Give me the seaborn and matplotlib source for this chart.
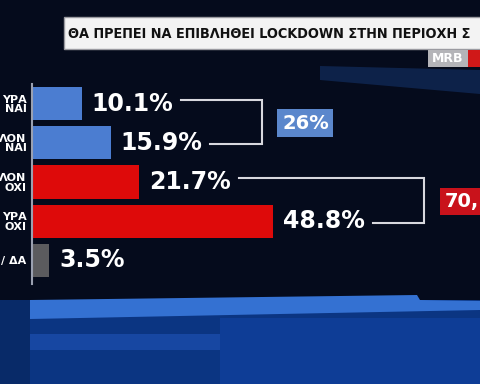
import matplotlib
matplotlib.use("Agg")
import matplotlib.pyplot as plt
from matplotlib.patches import Rectangle, Polygon
import seaborn as sns
import pandas as pd

# poll answers (labels are cut off at the left edge of the screenshot)
categories = ["ΥΡΑ\nΝΑΙ", "ΛΟΝ\nΝΑΙ", "ΛΟΝ\nΟΧΙ", "ΥΡΑ\nΟΧΙ", "/ ΔΑ"]
values = [10.1, 15.9, 21.7, 48.8, 3.5]
bar_colors = ["#4b7dd1", "#4b7dd1", "#de0a0a", "#de0a0a", "#5b5b5e"]

# bracketed totals
group_rows = [(0, 1), (2, 3)]
group_labels = ["26%", "70,"]
group_colors = ["#5b87cc", "#c9121b"]

title = "ΘΑ ΠΡΕΠΕΙ ΝΑ ΕΠΙΒΛΗΘΕΙ LOCKDOWN ΣΤΗΝ ΠΕΡΙΟΧΗ Σ"

W, H = 480, 384
fig = plt.figure(figsize=(4.8, 3.84), dpi=100)
fig.patch.set_facecolor("#050b1c")

# background layer, pixel coordinates
bg = fig.add_axes([0, 0, 1, 1], zorder=-1)
bg.set_xlim(0, W)
bg.set_ylim(H, 0)
bg.axis("off")
bg.add_patch(Polygon([(320, 66), (480, 70), (480, 94), (320, 80)], color="#14356f", alpha=0.55, lw=0))
bg.add_patch(Rectangle((0, 300), W, 84, color="#0b3582", lw=0))
bg.add_patch(Rectangle((0, 300), 30, 84, color="#082a68", lw=0))
bg.add_patch(Rectangle((220, 318), 260, 66, color="#0e3d96", lw=0))
bg.add_patch(Rectangle((30, 334), 190, 16, color="#1b4cab", alpha=0.8, lw=0))
bg.add_patch(Polygon([(30, 300), (417, 295), (420, 300), (480, 301), (480, 310), (30, 319)],
                     color="#3471d2", lw=0))

# title strip
bg.add_patch(Rectangle((64, 17), 420, 32, facecolor="#f3f3f3", edgecolor="#9a9aa0", lw=1))
title_txt = bg.text(68, 33.5, title, color="#111111", fontsize=17, fontweight="bold",
                    family="DejaVu Sans", fontstretch="condensed", va="center", ha="left")

# MRB logo
bg.add_patch(Rectangle((428, 50), 40, 17, color="#b4b4b8", lw=0))
bg.add_patch(Rectangle((468, 50), 14, 17, color="#d01818", lw=0))
bg.text(448, 58.5, "MRB", color="white", fontsize=9, fontweight="bold", ha="center", va="center")

# bar axes
ax = fig.add_axes([32 / W, 1 - 284 / H, 448 / W, 200 / H])
ax.patch.set_alpha(0)
df = pd.DataFrame({"answer": categories, "pct": values})
sns.barplot(data=df, x="pct", y="answer", hue="answer", palette=bar_colors, legend=False,
            orient="h", width=0.85, saturation=1, ax=ax)
ax.set_xlim(0, 448 / 4.94)
ax.set_ylim(4.6, -0.5)
ax.set_xlabel("")
ax.set_ylabel("")
ax.set_xticks([])
ax.tick_params(axis="y", length=0, pad=4, labelcolor="white")
for lbl in ax.get_yticklabels():
    lbl.set_fontweight("bold")
    lbl.set_fontsize(8)
    lbl.set_linespacing(0.95)
for side in ["top", "right", "bottom"]:
    ax.spines[side].set_visible(False)
ax.spines["left"].set_color("#9aa0b0")
ax.spines["left"].set_linewidth(1.5)

texts = []
for i, v in enumerate(values):
    t = ax.text(v + 2.0, i, f"{v}%", va="center", ha="left", color="white",
                fontsize=17, fontweight="bold")
    texts.append(t)

fig.canvas.draw()

# squeeze the title into the white strip
tw = title_txt.get_window_extent().width
if tw > 406:
    title_txt.set_fontsize(17 * 406 / tw)

# brackets joining the yes / no answers
inv = ax.transData.inverted()
for (a, b), label, color in zip(group_rows, group_labels, group_colors):
    end_a = inv.transform((texts[a].get_window_extent().x1, 0))[0]
    end_b = inv.transform((texts[b].get_window_extent().x1, 0))[0]
    right = max(end_a, end_b) + 12
    ax.plot([end_a + 1.6, right, right, end_b + 1.6], [a - 0.1, a - 0.1, b + 0.04, b + 0.04],
            color="#d8d8de", lw=1.5, solid_joinstyle="miter")
    mid = (a + b) / 2
    box_x = right + 3.2
    ax.add_patch(Rectangle((box_x, mid - 0.35), 11.3, 0.7, color=color, lw=0))
    ax.text(box_x + 1.0, mid, label, va="center", ha="left", color="white",
            fontsize=14, fontweight="bold")

fig.savefig("out.png", dpi=100, facecolor=fig.get_facecolor())
